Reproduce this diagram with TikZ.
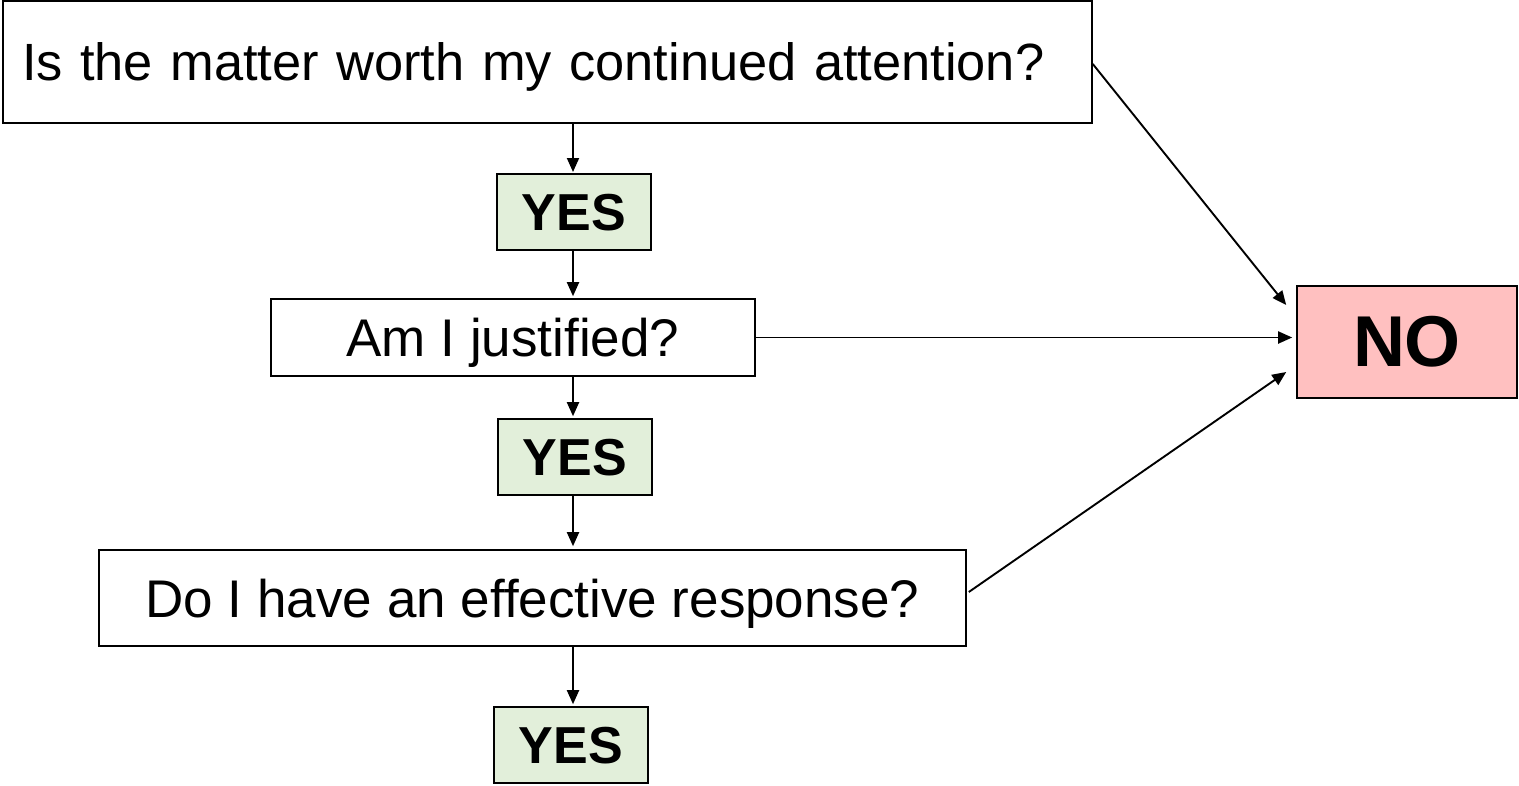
\documentclass[tikz,border=0pt]{standalone}
\usepackage{fontspec}
\setmainfont{Liberation Sans}
\usetikzlibrary{arrows.meta,calc}
\definecolor{yesgreen}{RGB}{226,239,218}
\definecolor{nopink}{RGB}{255,192,192}
\tikzset{
  qbox/.style={draw=black, line width=1.6pt, fill=white, inner sep=0pt, text depth=0pt, font=\fontsize{53}{60}\selectfont},
  yesbox/.style={draw=black, line width=1.6pt, fill=yesgreen, inner sep=0pt, text depth=0pt, minimum width=154pt, minimum height=76pt, font=\bfseries\fontsize{52}{58}\selectfont},
  nobox/.style={draw=black, line width=1.6pt, fill=nopink, inner sep=0pt, minimum width=220pt, minimum height=112pt, font=\bfseries\fontsize{72}{80}\selectfont},
  arr/.style={line width=1.9pt, -{Triangle[length=14pt,width=12pt]}}
}
\begin{document}
\begin{tikzpicture}[x=1pt,y=-1pt]
\useasboundingbox (0,0) rectangle (1519,785);
\node[qbox, minimum width=1089pt, minimum height=122pt, text width=1051pt, inner xsep=19pt, align=left, font=\fontsize{52.4}{60}\selectfont] (q1) at (547.5,62) {Is the matter worth my continued attention?};
\node[yesbox] (y1) at (574,212) {YES};
\node[qbox, minimum width=484pt, minimum height=77pt] (q2) at (513,337.5) {Am I justified?};
\node[yesbox] (y2) at (575,457) {YES};
\node[qbox, minimum width=867pt, minimum height=96pt] (q3) at (532.5,598) {Do I have an effective response?};
\node[yesbox] (y3) at (571,745) {YES};
\node[nobox] (no) at (1407,342) {NO};
\coordinate (n1) at ($(no.west)+(-10,-37)$);
\coordinate (n3) at ($(no.west)+(-10,30)$);
\coordinate (s1) at ($(q1.east)+(0,2)$);
\coordinate (s3) at ($(q3.east)+(2,-6)$);
\draw[arr, shorten >=2pt] (573,123) -- (573,174);
\draw[arr, shorten >=2pt] (y1.south -| 573,0) -- (q2.north -| 573,0);
\draw[arr, shorten >=2pt] (q2.south -| 573,0) -- (y2.north -| 573,0);
\draw[arr, shorten >=3pt] (y2.south -| 573,0) -- (q3.north -| 573,0);
\draw[arr, shorten >=2pt] (q3.south -| 573,0) -- (y3.north -| 573,0);
\draw[arr] (s1) -- (n1);
\draw[arr, shorten >=4pt] (q2.east) -- (no.west |- q2.east);
\draw[arr] (s3) -- (n3);
\end{tikzpicture}
\end{document}
